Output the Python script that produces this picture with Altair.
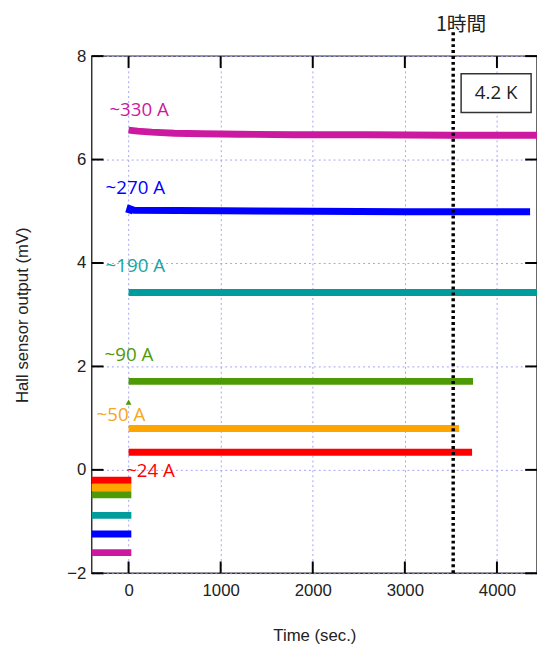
import altair as alt
import pandas as pd

# ---------------- data ----------------
series = ["~330 A", "~270 A", "~190 A", "~90 A", "~50 A", "~24 A"]
colors = ["#cc1aa0", "#0000ff", "#009c9c", "#4e9a06", "#ffa500", "#ff0000"]
text_colors = ["#cc1aa0", "#0000ff", "#16a3a3", "#4e9a06", "#f5a623", "#ff0000"]

t_330 = [0, 100, 250, 500, 800, 1200, 1800, 2600, 3500, 4440]
y_330 = [6.57, 6.55, 6.53, 6.51, 6.50, 6.49, 6.48, 6.48, 6.47, 6.47]
t_270 = [0, 15, 60, 1000, 2000, 3000, 4360]
y_270 = [4.96, 5.05, 5.02, 5.01, 5.00, 4.99, 4.99]
t_190 = [0, 4440]
y_190 = [3.43, 3.43]
t_90 = [0, 3740]
y_90 = [1.71, 1.71]
t_50 = [0, 3590]
y_50 = [0.80, 0.80]
t_24 = [0, 3730]
y_24 = [0.34, 0.34]

# pre-measurement stubs (offset baselines)
stub_t = [-400, 30]
stub_y = [-1.60, -1.24, -0.88, -0.48, -0.34, -0.20]

# label positions (data coords)
label_t = [-208, -250, -250, -261, -347, -26]
label_y = [6.95, 5.45, 3.94, 2.21, 1.05, -0.02]

marker_t = [0]
marker_y = [1.31]

hour_t = 3525
hour_top = 8.46
hour_label_y = 8.6

box_t = [3611, 4371]
box_y = [6.91, 7.66]
box_text = "4.2 K"

x_ticks = [0, 1000, 2000, 3000, 4000]
y_ticks = [-2, 0, 2, 4, 6, 8]

x_domain = [-400, 4435]
y_domain = [-2, 8]
W, H = 452, 525
TL = 12  # inward tick length in pixels

# ---------------- tables ----------------
main_t = [t_330, t_270, t_190, t_90, t_50, t_24]
main_y = [y_330, y_270, y_190, y_90, y_50, y_24]
rows = []
for i, s in enumerate(series):
    for t, y in zip(main_t[i], main_y[i]):
        rows.append({"seg": s + " main", "t": t, "y": y, "c": colors[i]})
for i, s in enumerate(series):
    for t in stub_t:
        rows.append({"seg": s + " stub", "t": t, "y": stub_y[i], "c": colors[i]})
lines_df = pd.DataFrame(rows)

labels_df = pd.DataFrame({"label": series, "t": label_t, "y": label_y, "c": text_colors})
marker_df = pd.DataFrame({"t": marker_t, "y": marker_y})
hour_df = pd.DataFrame({"t": [hour_t], "y": [hour_top], "y2": [-2], "ly": [hour_label_y], "label": ["1時間"]})
box_df = pd.DataFrame({"t": [box_t[0]], "t2": [box_t[1]], "y": [box_y[0]], "y2": [box_y[1]],
                       "tm": [(box_t[0] + box_t[1]) / 2], "ym": [(box_y[0] + box_y[1]) / 2],
                       "label": [box_text]})

# inward tick marks expressed in scale units (pixel length converted through the scale)
dx = TL * (x_domain[1] - x_domain[0]) / W
dy = TL * (y_domain[1] - y_domain[0]) / H
yt_rows = []
for v in y_ticks:
    yt_rows.append({"t": x_domain[0], "t2": x_domain[0] + dx, "y": v})
    yt_rows.append({"t": x_domain[1] - dx, "t2": x_domain[1], "y": v})
yt_df = pd.DataFrame(yt_rows)
xt_rows = []
for v in x_ticks:
    xt_rows.append({"t": v, "y": y_domain[0], "y2": y_domain[0] + dy})
    xt_rows.append({"t": v, "y": y_domain[1] - dy, "y2": y_domain[1]})
xt_df = pd.DataFrame(xt_rows)

# ---------------- scales / axes ----------------
xs = alt.Scale(domain=x_domain, nice=False, zero=False)
ys = alt.Scale(domain=y_domain, nice=False, zero=False)

FONT = "Liberation Sans"
x_main = alt.Axis(values=x_ticks, format="d", title="Time (sec.)", orient="bottom", tickSize=0,
                  labelPadding=10, titlePadding=29, labelFontSize=17, titleFontSize=17,
                  labelFont=FONT, titleFont=FONT, titleFontWeight="normal",
                  labelColor="#222", titleColor="#222", domain=False,
                  grid=True, gridColor="#a3a3f5", gridDash=[2, 3], gridWidth=1)
y_main = alt.Axis(values=y_ticks, format="d", title="Hall sensor output (mV)", orient="left", tickSize=0,
                  labelPadding=6, titlePadding=36, labelFontSize=17, titleFontSize=17,
                  labelFont=FONT, titleFont=FONT, titleFontWeight="normal",
                  labelColor="#222", titleColor="#222", domain=False,
                  grid=True, gridColor="#a3a3f5", gridDash=[2, 3], gridWidth=1)


def X(field):
    return alt.X(field, type="quantitative", scale=xs, axis=x_main)


def Y(field):
    return alt.Y(field, type="quantitative", scale=ys, axis=y_main)


lines = alt.Chart(lines_df).mark_line(strokeWidth=7, strokeCap="butt").encode(
    x=X("t"), y=Y("y"),
    color=alt.Color("c:N", scale=None),
    detail="seg:N",
    order="t:Q",
)

tick_style = dict(color="#000000", strokeWidth=2, opacity=1)
ticks_h = alt.Chart(yt_df).mark_rule(**tick_style).encode(
    x=X("t"), x2="t2:Q", y=Y("y"))
ticks_v = alt.Chart(xt_df).mark_rule(**tick_style).encode(
    x=X("t"), y=Y("y"), y2="y2:Q")

marker = alt.Chart(marker_df).mark_point(shape="triangle-up", filled=True, size=35,
                                         color="#4e9a06", opacity=1).encode(
    x=X("t"), y=Y("y"))

labels = alt.Chart(labels_df).mark_text(align="left", baseline="middle", font="Open Sans",
                                        fontSize=19).encode(
    x=X("t"), y=Y("y"),
    text="label:N", color=alt.Color("c:N", scale=None))

hour_rule = alt.Chart(hour_df).mark_rule(color="black", strokeWidth=3.5, strokeDash=[3, 3]).encode(
    x=X("t"), y=Y("y"), y2="y2:Q")
hour_text = alt.Chart(hour_df).mark_text(align="center", baseline="middle", dx=8,
                                         font="Noto Sans CJK JP", fontSize=20, color="#222").encode(
    x=X("t"), y=Y("ly"), text="label:N")

box = alt.Chart(box_df).mark_rect(fill="white", stroke="#333", strokeWidth=1.5).encode(
    x=X("t"), x2="t2:Q", y=Y("y"), y2="y2:Q")
box_label = alt.Chart(box_df).mark_text(align="center", baseline="middle", font="Open Sans",
                                        fontSize=19, color="#222").encode(
    x=X("tm"), y=Y("ym"), text="label:N")

chart = alt.layer(
    lines, marker, labels, hour_rule, hour_text, box, box_label, ticks_h, ticks_v,
).properties(
    width=W, height=H,
    autosize=alt.AutoSizeParams(type="none"),
    padding={"left": 85, "top": 44, "right": 0, "bottom": 72},
).configure_view(stroke="#333", strokeWidth=1.5)

chart.save("out.html", embed_options={"renderer": "svg", "actions": False})
